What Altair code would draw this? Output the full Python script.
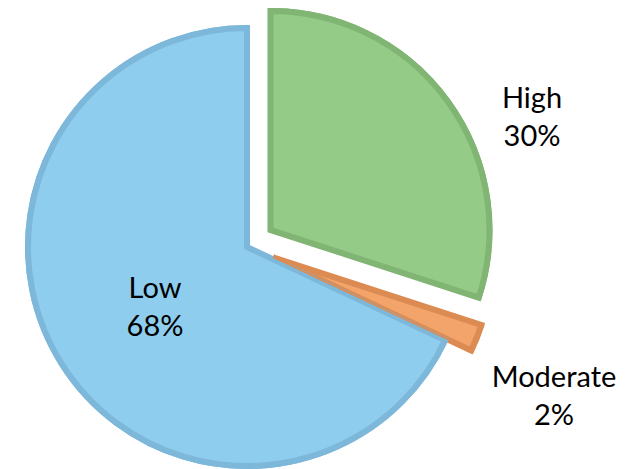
import altair as alt
import pandas as pd

categories = ["High", "Moderate", "Low"]
values = [30, 2, 68]
pct_labels = ["30%", "2%", "68%"]

fill_colors = ["#93CB87", "#F2A46A", "#8FCDEE"]
mid_colors = ["#80B574", "#DC8B52", "#7DB8DA"]
edge_colors = ["#5A8750", "#A8612E", "#4E86A6"]

df = pd.DataFrame({
    "cat": categories,
    "value": values,
    "pct": pct_labels,
    "idx": list(range(len(categories))),
})

CX, CY, R = 239, 239, 222
explode = {"High": 29, "Moderate": 28, "Low": 0}
label_pos = {"High": (524, 100), "Moderate": (546, 379), "Low": (147, 290)}

def case(d, default):
    expr = str(default)
    for k, v in d.items():
        expr = f"datum.cat === '{k}' ? {v} : ({expr})"
    return expr

base = alt.Chart(df).transform_window(
    cum="sum(value)", sort=[alt.SortField("idx")], frame=[None, 0]
).transform_joinaggregate(
    total="sum(value)"
).transform_calculate(
    mid="2*PI*(datum.cum - datum.value/2)/datum.total",
    ex=case(explode, 0),
).transform_calculate(
    cx=f"{CX} + datum.ex*sin(datum.mid)",
    cy=f"{CY} - datum.ex*cos(datum.mid)",
)

enc = dict(
    theta=alt.Theta("value:Q", stack=True),
    order=alt.Order("idx:Q"),
    x=alt.X("cx:Q", scale=None),
    y=alt.Y("cy:Q", scale=None),
)

arcs = base.mark_arc(outerRadius=R - 3, strokeWidth=6, strokeJoin="miter").encode(
    color=alt.Color("cat:N", scale=alt.Scale(domain=categories, range=fill_colors), legend=None),
    stroke=alt.Stroke("cat:N", scale=alt.Scale(domain=categories, range=mid_colors), legend=None),
    **enc,
)

rims = base.mark_arc(outerRadius=R - 1, strokeWidth=2, strokeJoin="miter", fillOpacity=0).encode(
    stroke=alt.Stroke("cat:N", scale=alt.Scale(domain=categories, range=edge_colors), legend=None),
    **enc,
)

labels = alt.Chart(df).transform_calculate(
    lbl="datum.cat + '\\n' + datum.pct",
    lx=case({k: v[0] for k, v in label_pos.items()}, 0),
    ly=case({k: v[1] for k, v in label_pos.items()}, 0),
).mark_text(
    font="Lato", fontSize=29, lineBreak="\n", lineHeight=38, color="black",
    align="center", baseline="alphabetic"
).encode(
    x=alt.X("lx:Q", scale=None),
    y=alt.Y("ly:Q", scale=None),
    text="lbl:N",
)

chart = alt.layer(arcs, rims, labels).properties(
    width=617, height=461, padding=0, autosize=alt.AutoSizeParams(type="none")
).configure_view(stroke=None)

chart.save("out.html", embed_options={"renderer": "svg", "actions": False})
